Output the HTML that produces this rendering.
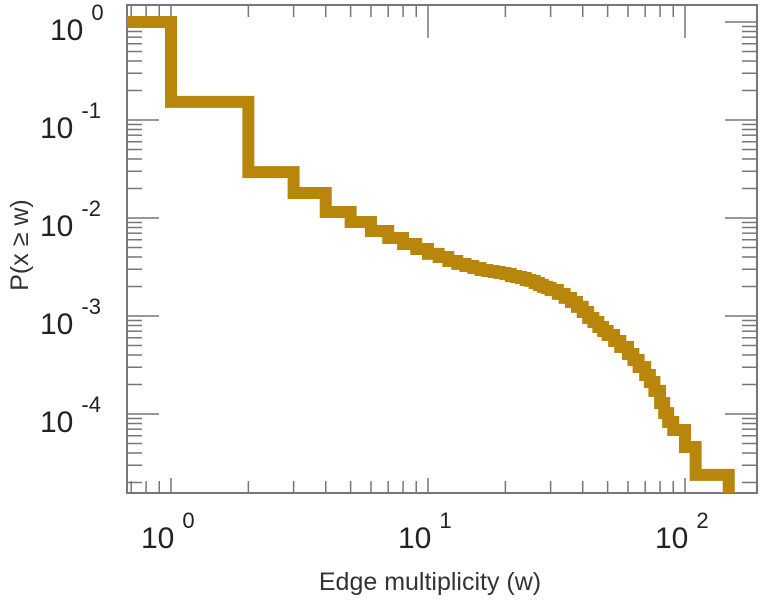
<!DOCTYPE html>
<html><head><meta charset="utf-8"><style>
html,body{margin:0;padding:0;background:#fff;}
svg{display:block;font-family:"Liberation Sans",sans-serif;}
</style></head><body>
<svg id="chart" width="771" height="600" xmlns="http://www.w3.org/2000/svg">
<defs><clipPath id="clip"><rect x="127" y="5" width="630" height="488"/></clipPath></defs>
<g id="ticks"></g>
<rect x="127" y="5" width="630" height="488" fill="none" stroke="#777" stroke-width="2"/>
<g clip-path="url(#clip)"><path id="series" fill="none" stroke="#b8860b" stroke-width="12" stroke-linejoin="miter"/></g>
<g id="labels" fill="#222"></g>
<text x="430" y="590" font-size="25" text-anchor="middle" fill="#333">Edge multiplicity (w)</text>
<text transform="translate(28,245) rotate(-90)" font-size="25" text-anchor="middle" fill="#333">P(x ≥ w)</text>
</svg>
<script>
const wBreaks = [0.67, 1, 2, 3, 4, 5, 6, 7, 8, 9, 10, 11, 12, 13, 14, 15, 16, 17, 18, 19, 20, 21, 22, 23, 24, 25, 26, 27, 28, 29, 30, 32, 34, 36, 38, 40, 42, 44, 46, 48, 50, 53, 56, 60, 63, 66, 70, 73, 76, 80, 83, 86, 90, 100, 110, 148];
const pValues = [1, 0.153, 0.0294, 0.018, 0.0115, 0.0091, 0.00737, 0.00625, 0.00543, 0.00483, 0.0043, 0.0040, 0.00364, 0.0034, 0.00324, 0.00309, 0.00295, 0.00288, 0.00281, 0.00275, 0.00268, 0.00256, 0.0025, 0.00244, 0.00233, 0.00228, 0.00217, 0.00207, 0.00198, 0.00193, 0.00184, 0.00168, 0.00153, 0.00139, 0.00124, 0.0011, 0.000955, 0.000869, 0.000773, 0.000704, 0.00064, 0.000556, 0.000483, 0.00041, 0.000356, 0.000302, 0.00025, 0.000212, 0.000172, 0.000129, 0.000102, 0.0000828, 0.0000687, 0.000046, 0.0000239, 0.000001];
const xTickExps = [0, 1, 2];
const yTickExps = [0, -1, -2, -3, -4];

const X0 = 171, XD = 257, Y0 = 22, YD = 98;
const L = 127, R = 757, T = 5, B = 493;
function xs(w){ return X0 + Math.log10(w) * XD; }
function ys(p){ return Y0 - Math.log10(p) * YD; }
const NS = "http://www.w3.org/2000/svg";

let d = "M" + xs(wBreaks[0]) + "," + ys(pValues[0]);
for (let i = 1; i < wBreaks.length; i++) {
  d += " H" + xs(wBreaks[i]) + " V" + ys(pValues[i]);
}
document.getElementById("series").setAttribute("d", d);

const tg = document.getElementById("ticks");
function line(x1,y1,x2,y2){
  const l = document.createElementNS(NS, "line");
  l.setAttribute("x1",x1);l.setAttribute("y1",y1);l.setAttribute("x2",x2);l.setAttribute("y2",y2);
  l.setAttribute("stroke","#777");l.setAttribute("stroke-width","1.5");
  
  
  tg.appendChild(l);
}
for (let e = -1; e <= 2; e++) {
  for (let m = 1; m < 10; m++) {
    const x = xs(m * Math.pow(10, e));
    if (x < L || x > R) continue;
    const major = m === 1;
    line(x, B, x, B - (major ? 15 : 12));
    line(x, T, x, T + (major ? 33 : 12));
  }
}
for (let e = -5; e <= 0; e++) {
  for (let m = 1; m < 10; m++) {
    const y = ys(m * Math.pow(10, e));
    if (y < T || y > B) continue;
    const major = m === 1;
    line(L, y, L + (major ? 32 : 15), y);
    line(R, y, R - (major ? 32 : 15), y);
  }
}
const lg = document.getElementById("labels");
function label(x, y, exp, name){
  const t = document.createElementNS(NS, "text");
  t.setAttribute("x", x); t.setAttribute("y", y);
  t.setAttribute("font-size", "30");
  
  
  t.innerHTML = '10<tspan dy="-20" dx="8" font-size="22">' + exp + '</tspan>';
  lg.appendChild(t);
}
xTickExps.forEach(e => label(xs(Math.pow(10, e)) - 30, 548, e, 'x-tick-label'));
yTickExps.forEach(e => label(e === 0 ? 50 : 40, ys(Math.pow(10, e)) + 18, e, 'y-tick-label'));
</script>
</body></html>
